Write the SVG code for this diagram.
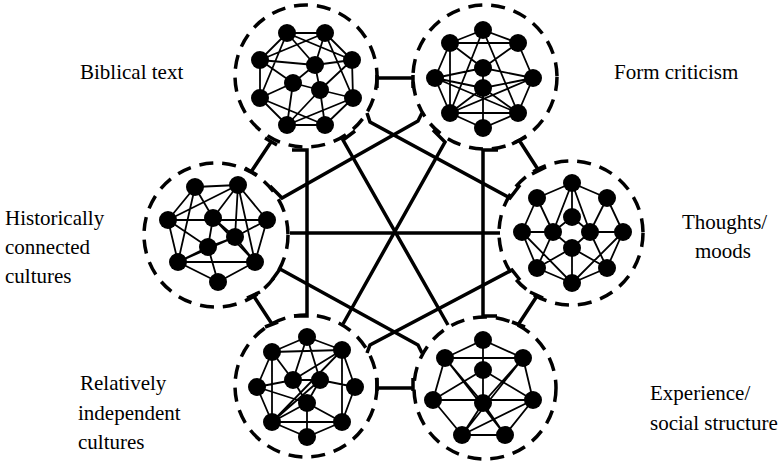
<svg xmlns="http://www.w3.org/2000/svg" width="780" height="461" viewBox="0 0 780 461">
<style>
.bg{fill:#fff}
.ring{fill:none;stroke:#000;stroke-width:3.5;stroke-dasharray:14 9}
.e{fill:none;stroke:#000;stroke-width:1.8}
.n{fill:#000}
.c{fill:none;stroke:#000;stroke-width:3.5;stroke-linejoin:miter}
.t{font-family:"Liberation Serif","Times New Roman",serif;font-size:21px;fill:#000}
</style>
<rect class="bg" x="0" y="0" width="780" height="461"/>
<g id="connectors">
<path class="c" d="M290 233H500"/>
<path class="c" d="M355 131L343 140L448 325"/>
<path class="c" d="M433 130L445 142L343 324"/>
<path class="c" d="M292 150H307V316H294"/>
<path class="c" d="M498 150H483V316H497"/>
<path class="c" d="M367 113L370 122L510 198L520 185"/>
<path class="c" d="M422 113L418 121L282 198L270 186"/>
<path class="c" d="M272 280L280 269L418 345L422 353"/>
<path class="c" d="M520 280L512 270L370 345L367 353"/>
<path class="c" d="M377 75V88M377 78H413M413 75V88"/>
<path class="c" d="M377 378V391M377 388H413M413 378V391"/>
<path class="c" d="M265 138L277 145M271 142L251 172M245 168L257 175"/>
<path class="c" d="M512 144L526 137M519 140L539 171M532 174L546 167"/>
<path class="c" d="M247 298L260 292M253 295L272 324M265 327L278 322"/>
<path class="c" d="M530 292L543 298M537 296L518 325M512 322L525 327"/>
</g>
<g id="biblical">
<circle class="ring" cx="306" cy="76" r="71"/>
<path class="e" d="M287 33L325 33M287 33L260 60M325 33L352 60M260 60L260 98M352 60L353 98M260 98L287 125M353 98L325 125M287 125L325 125M287 33L352 60M325 33L260 60M287 33L315 65M325 33L315 65M260 60L315 65M315 65L352 60M287 33L260 98M325 33L353 98M260 60L293 83M315 65L293 83M315 65L320 90M352 60L320 90M293 83L260 98M293 83L287 125M293 83L320 90M320 90L353 98M320 90L287 125M320 90L325 125M260 98L325 125M353 98L287 125"/>
<g class="n"><circle cx="287" cy="33" r="9"/><circle cx="325" cy="33" r="9"/><circle cx="260" cy="60" r="9"/><circle cx="315" cy="65" r="9"/><circle cx="352" cy="60" r="9"/><circle cx="293" cy="83" r="9"/><circle cx="320" cy="90" r="9"/><circle cx="260" cy="98" r="9"/><circle cx="353" cy="98" r="9"/><circle cx="287" cy="125" r="9"/><circle cx="325" cy="125" r="9"/></g>
</g>
<g id="form">
<circle class="ring" cx="485" cy="77" r="72"/>
<path class="e" d="M483 30L450 43M483 30L518 43M450 43L435 78M518 43L533 78M435 78L450 113M533 78L518 113M450 113L483 128M518 113L483 128M450 43L518 43M450 113L518 113M450 43L450 113M483 68L483 88M483 88L483 128M450 43L483 68M518 43L483 68M483 68L435 78M483 68L533 78M435 78L483 88M533 78L483 88M483 30L450 113M483 30L518 113M533 78L450 113M435 78L518 113M483 88L450 113M483 88L518 113"/>
<g class="n"><circle cx="483" cy="30" r="9"/><circle cx="450" cy="43" r="9"/><circle cx="518" cy="43" r="9"/><circle cx="483" cy="68" r="9"/><circle cx="435" cy="78" r="9"/><circle cx="533" cy="78" r="9"/><circle cx="483" cy="88" r="9"/><circle cx="450" cy="113" r="9"/><circle cx="518" cy="113" r="9"/><circle cx="483" cy="128" r="9"/></g>
</g>
<g id="historically">
<circle class="ring" cx="216" cy="235" r="72"/>
<path class="e" d="M195 187L238 185M195 187L168 220M238 185L267 220M168 220L178 262M267 220L255 262M178 262L218 282M255 262L218 282M168 220L267 220M178 262L255 262M238 185L168 220M195 187L178 262M238 185L213 218M238 185L235 237M238 185L255 262M168 220L208 247M213 218L208 247M213 218L235 237M235 237L208 247M235 237L255 262M208 247L178 262M208 247L218 282M267 220L235 237M235 237L178 262M195 187L213 218M213 218L255 262"/>
<g class="n"><circle cx="195" cy="187" r="9"/><circle cx="238" cy="185" r="9"/><circle cx="168" cy="220" r="9"/><circle cx="213" cy="218" r="9"/><circle cx="267" cy="220" r="9"/><circle cx="235" cy="237" r="9"/><circle cx="208" cy="247" r="9"/><circle cx="178" cy="262" r="9"/><circle cx="255" cy="262" r="9"/><circle cx="218" cy="282" r="9"/></g>
</g>
<g id="thoughts">
<circle class="ring" cx="571" cy="233" r="72"/>
<path class="e" d="M572 183L537 198M572 183L607 198M537 198L522 232M607 198L623 232M522 232L537 268M623 232L607 268M537 268L572 283M607 268L572 283M522 232L553 232M590 232L623 232M537 198L553 232M607 198L590 232M572 183L553 232M572 183L590 232M572 183L572 217M572 217L553 232M572 217L590 232M553 232L572 248M590 232L572 248M572 248L572 283M553 232L537 268M590 232L607 268M522 232L572 283M623 232L572 283M537 268L572 248M607 268L572 248"/>
<g class="n"><circle cx="572" cy="183" r="9"/><circle cx="537" cy="198" r="9"/><circle cx="607" cy="198" r="9"/><circle cx="572" cy="217" r="9"/><circle cx="522" cy="232" r="9"/><circle cx="553" cy="232" r="9"/><circle cx="590" cy="232" r="9"/><circle cx="623" cy="232" r="9"/><circle cx="572" cy="248" r="9"/><circle cx="537" cy="268" r="9"/><circle cx="607" cy="268" r="9"/><circle cx="572" cy="283" r="9"/></g>
</g>
<g id="relatively">
<circle class="ring" cx="306" cy="386" r="71"/>
<path class="e" d="M307 337L272 352M307 337L342 350M272 352L257 387M342 350L355 387M257 387L272 422M355 387L342 422M272 422L307 437M342 422L307 437M272 352L342 350M272 422L342 422M272 352L272 422M342 350L342 422M307 337L293 380M307 337L320 380M272 352L293 380M293 380L320 380M257 387L293 380M320 380L355 387M293 380L307 403M320 380L307 403M307 403L307 437M307 403L272 422M342 350L272 422M320 380L272 422M257 387L307 403M307 403L342 422M342 350L293 380"/>
<g class="n"><circle cx="307" cy="337" r="9"/><circle cx="272" cy="352" r="9"/><circle cx="342" cy="350" r="9"/><circle cx="257" cy="387" r="9"/><circle cx="293" cy="380" r="9"/><circle cx="320" cy="380" r="9"/><circle cx="355" cy="387" r="9"/><circle cx="307" cy="403" r="9"/><circle cx="272" cy="422" r="9"/><circle cx="342" cy="422" r="9"/><circle cx="307" cy="437" r="9"/></g>
</g>
<g id="experience">
<circle class="ring" cx="485" cy="388" r="71"/>
<path class="e" d="M483 340L445 358M483 340L523 358M445 358L433 400M523 358L533 400M433 400L462 435M533 400L505 435M462 435L505 435M445 358L523 358M433 400L533 400M483 340L483 370M483 370L483 403M445 358L505 435M523 358L462 435M483 370L433 400M483 370L533 400M483 403L462 435M483 403L505 435M533 400L462 435M445 358L483 403M523 358L483 403"/>
<g class="n"><circle cx="483" cy="340" r="9"/><circle cx="445" cy="358" r="9"/><circle cx="523" cy="358" r="9"/><circle cx="483" cy="370" r="9"/><circle cx="433" cy="400" r="9"/><circle cx="483" cy="403" r="9"/><circle cx="533" cy="400" r="9"/><circle cx="462" cy="435" r="9"/><circle cx="505" cy="435" r="9"/></g>
</g>
<g id="labels">
<text class="t" x="80" y="79">Biblical text</text>
<text class="t" x="614" y="79">Form criticism</text>
<text class="t" x="5" y="225">Historically</text>
<text class="t" x="5" y="254">connected</text>
<text class="t" x="5" y="283">cultures</text>
<text class="t" x="682" y="229">Thoughts/</text>
<text class="t" x="695" y="258">moods</text>
<text class="t" x="80" y="390">Relatively</text>
<text class="t" x="78" y="420">independent</text>
<text class="t" x="78" y="449">cultures</text>
<text class="t" x="650" y="400">Experience/</text>
<text class="t" x="650" y="430">social structure</text>
</g>
</svg>
